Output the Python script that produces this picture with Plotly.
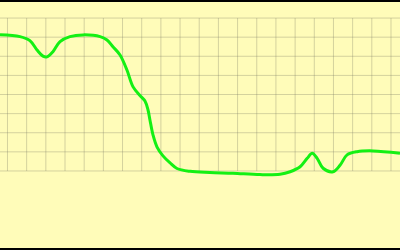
import plotly.graph_objects as go

# curve (grid units)
x_vals = [-0.39, 0.65, 1.17, 1.54, 1.85, 2.06, 2.37, 2.74, 3.26, 3.94, 4.83, 5.19, 5.50,
          5.87, 6.23, 6.55, 6.91, 7.17, 7.33, 7.43, 7.59, 7.80, 8.11, 8.48, 8.84, 9.52,
          10.56, 11.76, 13.17, 14.21, 14.74, 15.26, 15.63, 15.89, 16.15, 16.46, 16.98,
          17.35, 17.71, 18.23, 19.07, 20.47]
y_vals = [7.13, 7.03, 6.82, 6.33, 6.01, 5.97, 6.24, 6.77, 7.03, 7.12, 7.03, 6.85, 6.50,
          6.07, 5.28, 4.40, 3.95, 3.66, 3.19, 2.67, 1.88, 1.25, 0.79, 0.42, 0.13, -0.02,
          -0.08, -0.12, -0.19, -0.17, -0.04, 0.22, 0.66, 0.93, 0.66, 0.14, -0.04,
          0.31, 0.84, 1.01, 1.05, 0.93]

x_grid = list(range(0, 21))
y_grid = list(range(0, 9))

bg = "#FFFCB9"
grid = "rgba(120,120,100,0.32)"

fig = go.Figure()
shapes = []
for gx in x_grid:
    shapes.append(dict(type="line", xref="x", yref="y", x0=gx, x1=gx,
                       y0=y_grid[0], y1=y_grid[-1], layer="below",
                       line=dict(color=grid, width=1)))
for gy in y_grid:
    shapes.append(dict(type="line", xref="paper", yref="y", x0=0, x1=1,
                       y0=gy, y1=gy, layer="below",
                       line=dict(color=grid, width=1)))

fig.add_trace(go.Scatter(x=x_vals, y=y_vals, mode="lines",
                         line=dict(color="#14F014", width=3, shape="spline", smoothing=1),
                         hoverinfo="skip"))
fig.update_layout(
    width=400, height=250,
    margin=dict(l=0, r=0, t=2, b=2),
    paper_bgcolor="black", plot_bgcolor=bg,
    showlegend=False,
    shapes=shapes,
    xaxis=dict(range=[-0.39, 20.47], showticklabels=False, ticks="",
               showgrid=False, zeroline=False, showline=False),
    yaxis=dict(range=[-4.03, 8.84], showticklabels=False, ticks="",
               showgrid=False, zeroline=False, showline=False),
)
fig.write_html("out.html", config={"displayModeBar": False})
